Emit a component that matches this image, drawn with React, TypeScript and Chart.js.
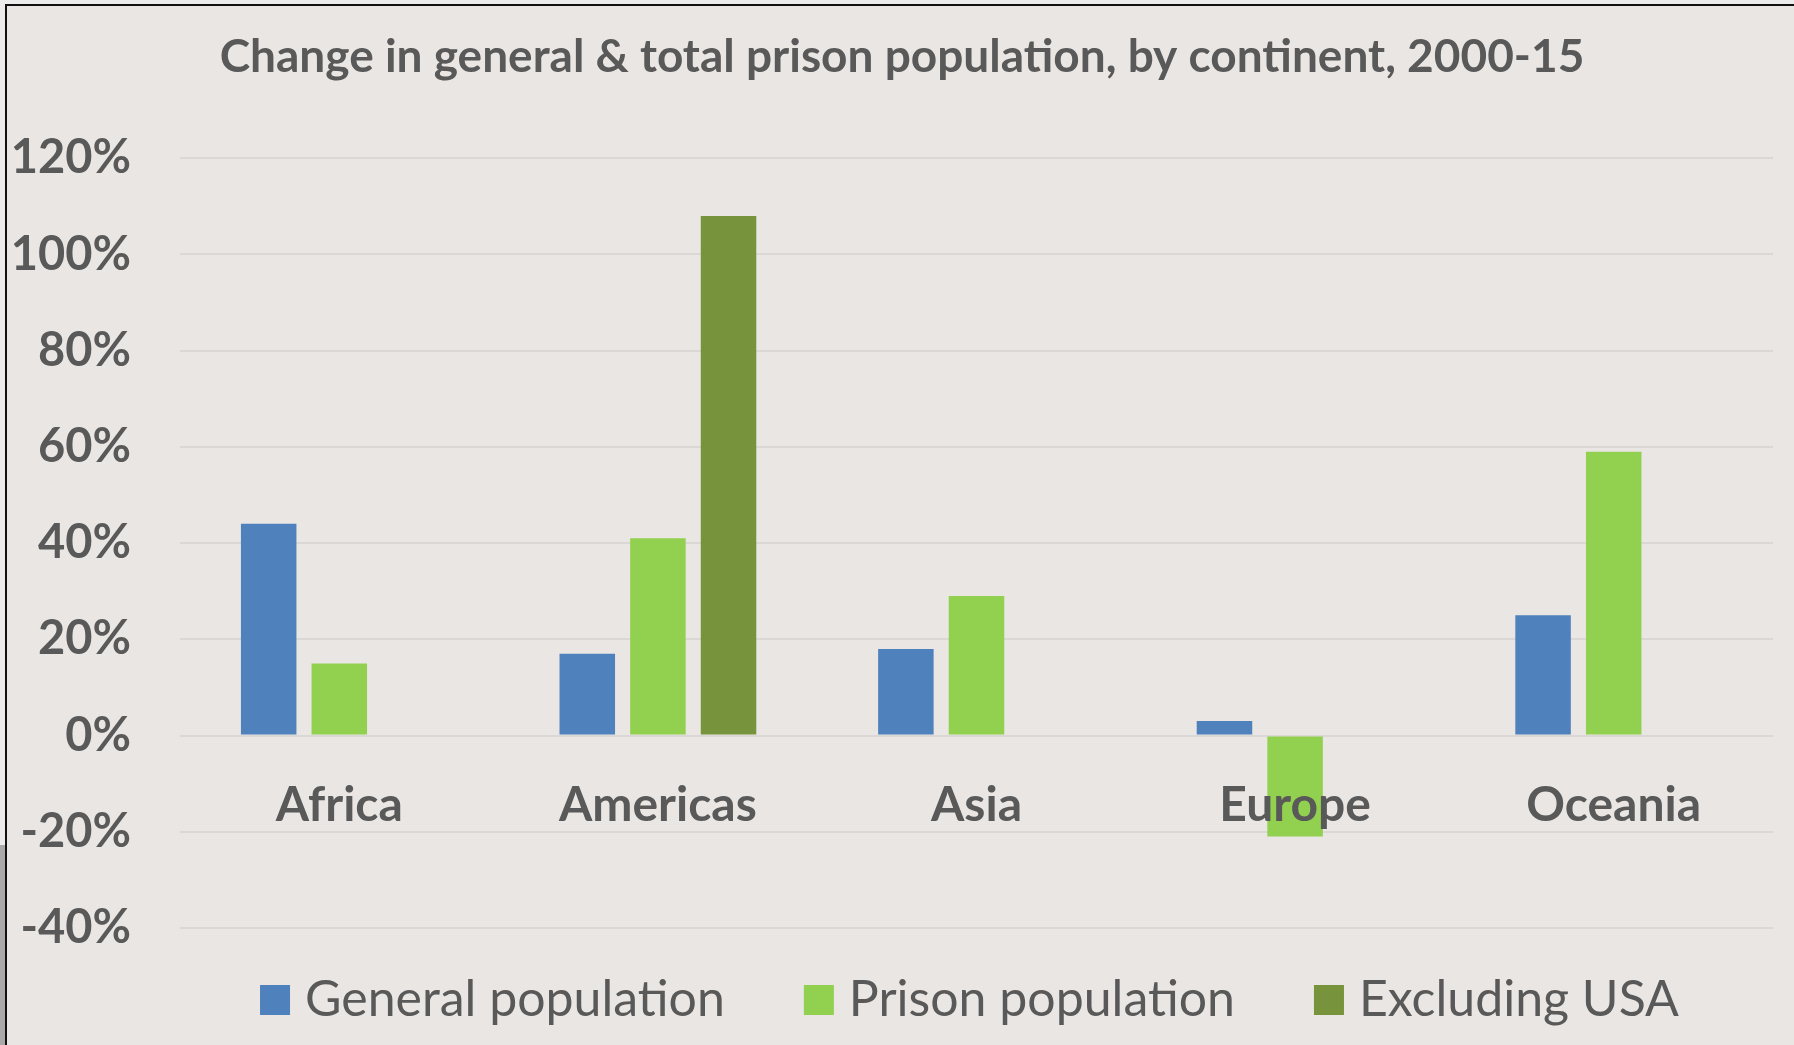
import React, { useEffect, useRef } from 'react';
import { Chart, registerables } from 'chart.js';

Chart.register(...registerables);

const chartTitle = 'Change in general & total prison population, by continent, 2000-15';
const continents = ['Africa', 'Americas', 'Asia', 'Europe', 'Oceania'];
const seriesNames = ['General population', 'Prison population', 'Excluding USA'];
const generalPopulation = [44, 17, 18, 3, 25];
const prisonPopulation = [15, 41, 29, -21, 59];
const excludingUSA = [null, 108, null, null, null];
const yMin = -40;
const yMax = 120;
const yStep = 20;

const TEXT = '#595959';
const FONT = 'Lato';

const legendPlugin = {
  id: 'excelLegend',
  afterLayout(chart: any) {
    // let the y tick labels use the full left margin (no clipping)
    if (chart.scales.y) chart.scales.y.left = 0;
  },
  afterDraw(chart: any) {
    const ctx = chart.ctx;
    const ca = chart.chartArea;
    ctx.save();
    ctx.font = `50px ${FONT}`;
    const box = 30;
    const gapText = 15;
    const gapItem = 79;
    const items = chart.data.datasets.map((ds: any) => ({
      label: ds.label,
      color: ds.backgroundColor,
      w: ctx.measureText(ds.label).width,
    }));
    const total =
      items.reduce((s: number, it: any) => s + box + gapText + it.w, 0) + gapItem * (items.length - 1);
    let x = (ca.left + ca.right) / 2 - 7 - total / 2;
    const cy = 1000;
    ctx.textBaseline = 'middle';
    ctx.textAlign = 'left';
    for (const it of items) {
      ctx.fillStyle = it.color;
      ctx.fillRect(x, cy - box / 2, box, box);
      x += box + gapText;
      ctx.fillStyle = TEXT;
      ctx.fillText(it.label, x, cy);
      x += it.w + gapItem;
    }
    ctx.restore();
  },
};

export default function App() {
  const ref = useRef<HTMLCanvasElement | null>(null);

  useEffect(() => {
    if (!ref.current) return;
    const chart = new Chart(ref.current, {
      type: 'bar',
      data: {
        labels: continents,
        datasets: [
          { label: seriesNames[0], data: generalPopulation, backgroundColor: '#4F81BD', borderWidth: 0 },
          { label: seriesNames[1], data: prisonPopulation, backgroundColor: '#92D050', borderWidth: 0 },
          { label: seriesNames[2], data: excludingUSA as any, backgroundColor: '#77933C', borderWidth: 0 },
        ],
      },
      options: {
        responsive: false,
        animation: false,
        devicePixelRatio: 1,
        events: [],
        datasets: {
          bar: { categoryPercentage: 0.665, barPercentage: 0.786 },
        },
        layout: { padding: { left: 31, right: 21, top: 0, bottom: 117 } },
        plugins: {
          legend: { display: false },
          tooltip: { enabled: false },
          title: {
            display: true,
            text: chartTitle,
            color: TEXT,
            font: { family: FONT, size: 46, weight: 'bold', lineHeight: 1.2 },
            padding: { top: 30, bottom: 73 },
          },
        },
        scales: {
          x: {
            type: 'category',
            position: { y: 0 } as any,
            grid: { display: false, drawTicks: false },
            border: { display: false },
            ticks: {
              z: 1,
              color: TEXT,
              font: { family: FONT, size: 48, weight: 'bold' },
              padding: 41,
              maxRotation: 0,
              autoSkip: false,
            },
          },
          y: {
            min: yMin,
            max: yMax,
            grid: { color: '#DAD8D6', lineWidth: 2, drawTicks: false },
            border: { display: false },
            ticks: {
              stepSize: yStep,
              color: TEXT,
              font: { family: FONT, size: 47, weight: 'bold' },
              padding: 49,
              callback: (v: any) => `${v}%`,
            },
            afterFit: (scale: any) => {
              scale.width = 149;
            },
          },
        },
      },
      plugins: [legendPlugin],
    });
    return () => chart.destroy();
  }, []);

  return (
    <div
      style={{
        position: 'fixed',
        left: 0,
        top: 0,
        width: 1794,
        height: 1045,
        background: '#ECECEC',
        overflow: 'hidden',
      }}
    >
      <div style={{ position: 'absolute', left: 0, top: 845, width: 6, height: 200, background: '#A9A9A9' }} />
      <div
        style={{
          position: 'absolute',
          left: 5,
          top: 4,
          right: 0,
          bottom: 0,
          borderLeft: '2px solid #111',
          borderTop: '2px solid #111',
          background: '#EAE6E3',
        }}
      />
      <canvas
        ref={ref}
        width={1794}
        height={1045}
        style={{ position: 'absolute', left: 0, top: 0, width: 1794, height: 1045 }}
      />
    </div>
  );
}
